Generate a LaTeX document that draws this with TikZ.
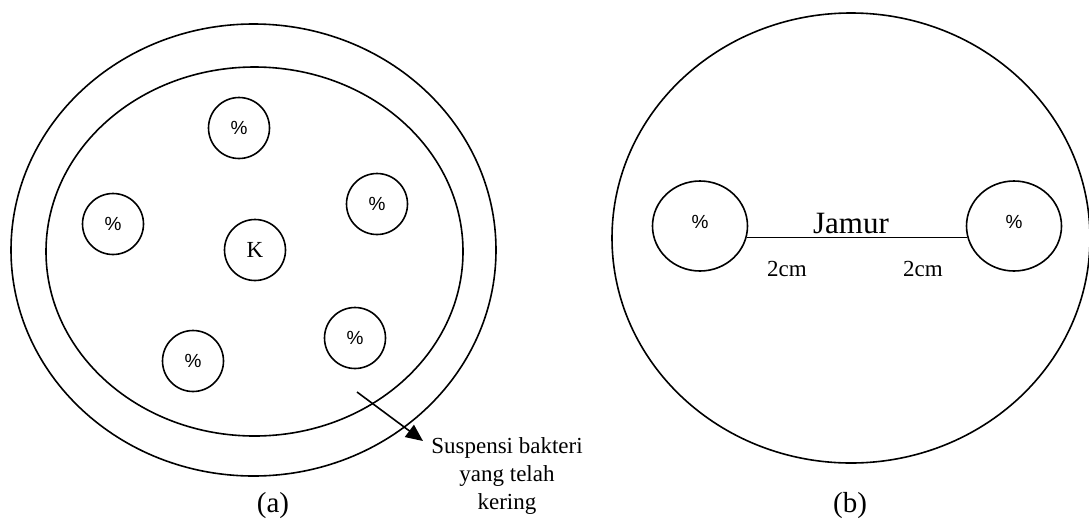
\documentclass[tikz,border=0pt]{standalone}
\usepackage{fontspec}
\setmainfont{Liberation Serif}
\newfontfamily\sansf{Liberation Sans}
\usetikzlibrary{shapes.geometric,arrows.meta}
\begin{document}
\begin{tikzpicture}[x=1pt,y=-1pt,
  lw/.style={line width=1.6pt},
  dish/.style={draw,lw,ellipse,inner sep=0pt},
  spot/.style={draw,lw,circle,inner sep=0pt,minimum size=61pt,font=\sansf\fontsize{19}{19}\selectfont},
  ctrl/.style={draw,lw,circle,inner sep=0pt,minimum size=61pt,font=\fontsize{23}{23}\selectfont},
  wide/.style={draw,lw,ellipse,inner sep=0pt,minimum width=95pt,minimum height=90pt,font=\sansf\fontsize{19}{19}\selectfont},
  captext/.style={font=\fontsize{29}{29}\selectfont,inner sep=0pt},
  lab/.style={font=\fontsize{23}{28}\selectfont,inner sep=0pt},
  arr/.style={lw,-{Triangle[length=17pt,width=15pt]}}]
\useasboundingbox (0,0) rectangle (1089,520);
% (a)
\node[dish,minimum width=485pt,minimum height=452pt] (outerA) at (253.5,250) {};
\node[dish,minimum width=417pt,minimum height=369pt] (innerA) at (254.5,251.5) {};
\node[spot] (s1) at (239,128) {\%};
\node[spot] (s2) at (113,224) {\%};
\node[ctrl] (k) at (255,250) {K};
\node[spot] (s3) at (377,204) {\%};
\node[spot] (s4) at (193,361) {\%};
\node[spot] (s5) at (355,338) {\%};
\coordinate (as) at (357,392);
\coordinate (at) at (423,441);
\draw[arr] (as) -- (at);
\node[lab,align=center,anchor=north] (sus) at (507,437)
  {Suspensi bakteri\\yang telah\\kering};
\node[captext] (capA) at (273,506) {(a)};
% (b)
\node[dish,minimum width=478pt,minimum height=450pt] (plateB) at (851,238) {};
\node[wide] (fL) at (700,226) {\raisebox{8pt}{\%}};
\node[wide] (fR) at (1014,226) {\raisebox{8pt}{\%}};
\draw[lw] (fL.-14) -- (fR.194);
\node[font=\fontsize{31}{31}\selectfont,inner sep=0pt,anchor=base] (jam) at (851,233) {Jamur};
\node[lab,anchor=base] (d1) at (787,276) {2cm};
\node[lab,anchor=base] (d2) at (923,276) {2cm};
\node[captext] (capB) at (850,506) {(b)};
\end{tikzpicture}
\end{document}
